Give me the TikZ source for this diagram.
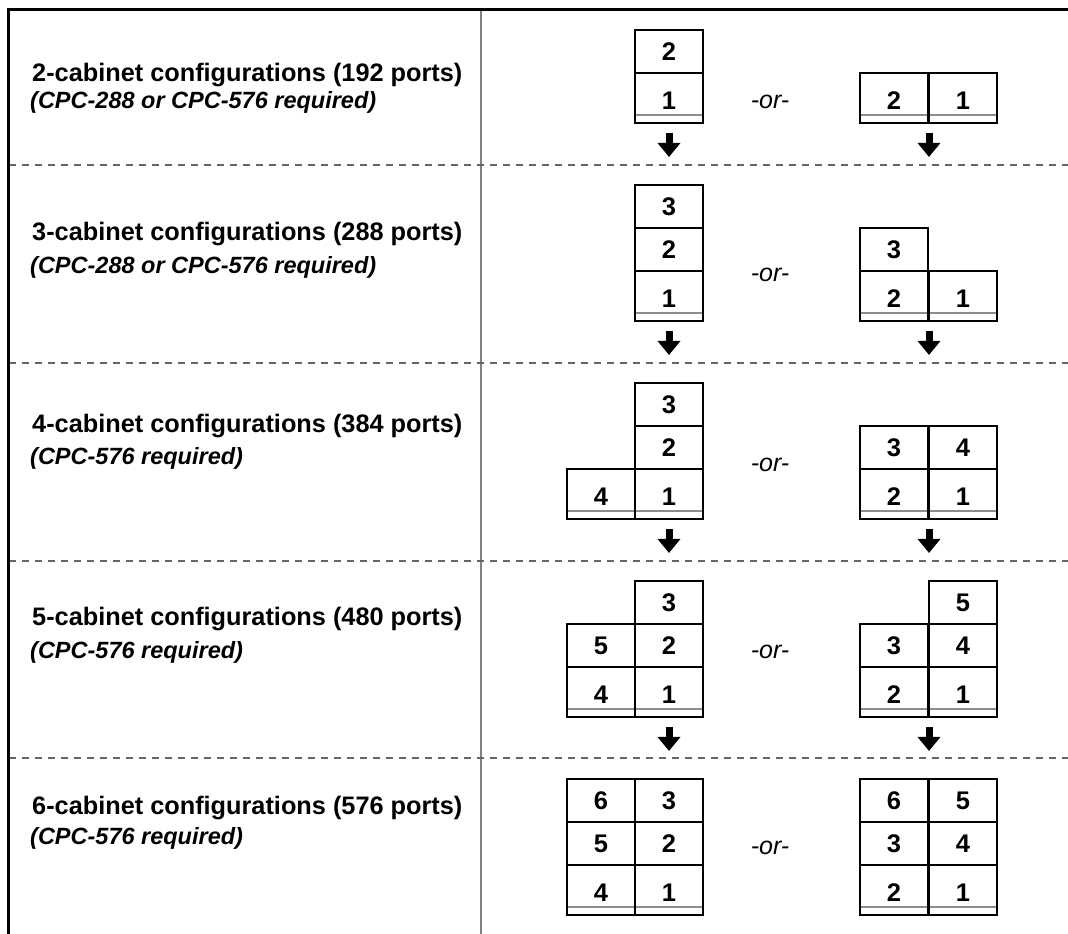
\documentclass[tikz,border=0pt]{standalone}
\usepackage{fontspec}
\setmainfont{Liberation Sans}
\usetikzlibrary{arrows.meta}
\definecolor{rulegray}{HTML}{808080}
\definecolor{dashgray}{HTML}{666666}
\definecolor{bandgray}{HTML}{8C8C8C}

\begin{document}
\begin{tikzpicture}[
    x=1pt, y=1pt,
    cab/.style={draw, line width=2pt, anchor=south west, inner sep=0pt,
                minimum width=68pt, minimum height=43pt,
                font=\fontsize{25.5}{30}\selectfont\bfseries},
    cabbase/.style={cab, minimum height=50pt, text height=24pt, text depth=0pt,
                path picture={\draw[bandgray, line width=1.6pt]
                  ([yshift=8pt]path picture bounding box.south west) --
                  ([yshift=8pt]path picture bounding box.south east);}},
    cfgtitle/.style={anchor=base west, inner sep=0pt,
                font=\fontsize{25.3}{30}\selectfont\bfseries},
    cfgnote/.style={anchor=base west, inner sep=0pt,
                font=\fontsize{23.5}{28}\selectfont\bfseries\itshape},
    ortext/.style={inner sep=0pt, font=\fontsize{25}{30}\selectfont\itshape},
    drop/.style={line width=7pt, -{Triangle[width=22pt,length=14pt]}},
    sepline/.style={dashgray, line width=1.2pt, dash pattern=on 7pt off 6pt},
]
\useasboundingbox (0,0) rectangle (1068,934);

% frame and column rule
\draw[rulegray, line width=2pt] (481,924) -- (481,0);
\foreach \y in {769,571,373,176}{
  \draw[sepline] (9,\y) -- (1068,\y);
}
\draw[line width=3pt] (8.5,0) -- (8.5,924.5) -- (1068,924.5);

% 2 cabinets
\node[cfgtitle] (t2) at (32,852) {2-cabinet configurations (192 ports)};
\node[cfgnote] (n2) at (30,825) {(CPC-288 or CPC-576 required)};
\node[cabbase] (r1a1) at (634,810) {1};
\node[cab] (r1a2) at (634,860) {2};
\node[ortext] (r1or) at (770,832) {-or-};
\node[cabbase] (r1b2) at (859,810) {2};
\node[cabbase] (r1b1) at (928,810) {1};
\draw[drop] ([yshift=-9pt]r1a1.south) -- ++(0,-24);
\draw[drop] ([yshift=-9pt]r1b2.south east) -- ++(0,-24);

% 3 cabinets
\node[cfgtitle] (t3) at (32,693) {3-cabinet configurations (288 ports)};
\node[cfgnote] (n3) at (30,660) {(CPC-288 or CPC-576 required)};
\node[cabbase] (r2a1) at (634,612) {1};
\node[cab] (r2a2) at (634,662) {2};
\node[cab] (r2a3) at (634,705) {3};
\node[ortext] (r2or) at (770,659) {-or-};
\node[cabbase] (r2b2) at (859,612) {2};
\node[cabbase] (r2b1) at (928,612) {1};
\node[cab] (r2b3) at (859,662) {3};
\draw[drop] ([yshift=-9pt]r2a1.south) -- ++(0,-24);
\draw[drop] ([yshift=-9pt]r2b2.south east) -- ++(0,-24);

% 4 cabinets
\node[cfgtitle] (t4) at (32,501) {4-cabinet configurations (384 ports)};
\node[cfgnote] (n4) at (30,469) {(CPC-576 required)};
\node[cabbase] (r3a1) at (634,414) {1};
\node[cab] (r3a2) at (634,464) {2};
\node[cab] (r3a3) at (634,507) {3};
\node[cabbase] (r3a4) at (566,414) {4};
\node[ortext] (r3or) at (770,469) {-or-};
\node[cabbase] (r3b2) at (859,414) {2};
\node[cabbase] (r3b1) at (928,414) {1};
\node[cab] (r3b3) at (859,464) {3};
\node[cab] (r3b4) at (928,464) {4};
\draw[drop] ([yshift=-9pt]r3a1.south) -- ++(0,-24);
\draw[drop] ([yshift=-9pt]r3b2.south east) -- ++(0,-24);

% 5 cabinets
\node[cfgtitle] (t5) at (32,308) {5-cabinet configurations (480 ports)};
\node[cfgnote] (n5) at (30,275) {(CPC-576 required)};
\node[cabbase] (r4a1) at (634,216) {1};
\node[cab] (r4a2) at (634,266) {2};
\node[cab] (r4a3) at (634,309) {3};
\node[cabbase] (r4a4) at (566,216) {4};
\node[cab] (r4a5) at (566,266) {5};
\node[ortext] (r4or) at (770,282) {-or-};
\node[cabbase] (r4b2) at (859,216) {2};
\node[cabbase] (r4b1) at (928,216) {1};
\node[cab] (r4b3) at (859,266) {3};
\node[cab] (r4b4) at (928,266) {4};
\node[cab] (r4b5) at (928,309) {5};
\draw[drop] ([yshift=-9pt]r4a1.south) -- ++(0,-24);
\draw[drop] ([yshift=-9pt]r4b2.south east) -- ++(0,-24);

% 6 cabinets
\node[cfgtitle] (t6) at (32,119) {6-cabinet configurations (576 ports)};
\node[cfgnote] (n6) at (30,89) {(CPC-576 required)};
\node[cabbase] (r5a1) at (634,18) {1};
\node[cab] (r5a2) at (634,68) {2};
\node[cab] (r5a3) at (634,111) {3};
\node[cabbase] (r5a4) at (566,18) {4};
\node[cab] (r5a5) at (566,68) {5};
\node[cab] (r5a6) at (566,111) {6};
\node[ortext] (r5or) at (770,86) {-or-};
\node[cabbase] (r5b2) at (859,18) {2};
\node[cabbase] (r5b1) at (928,18) {1};
\node[cab] (r5b3) at (859,68) {3};
\node[cab] (r5b4) at (928,68) {4};
\node[cab] (r5b6) at (859,111) {6};
\node[cab] (r5b5) at (928,111) {5};

\end{tikzpicture}
\end{document}
